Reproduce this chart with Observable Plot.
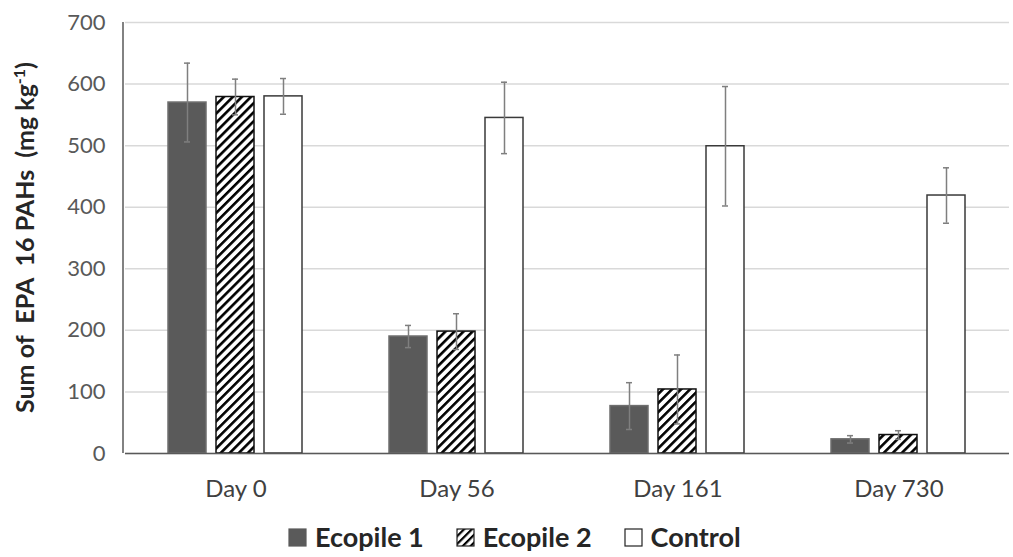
<!DOCTYPE html>
<html><head><meta charset="utf-8">
<script src="https://cdn.jsdelivr.net/npm/d3@7"></script>
<script src="https://cdn.jsdelivr.net/npm/@observablehq/plot@0.6"></script>
<style>
body{margin:0;background:#fff;font-family:Lato,"Open Sans",sans-serif;}
#wrap{position:relative;width:1013px;height:557px;overflow:hidden;}
#legend{position:absolute;left:288px;top:522px;display:flex;align-items:center;font-weight:bold;font-size:27px;line-height:30px;color:#262626;white-space:nowrap;}
#legend .item{display:flex;align-items:center;margin-right:32px;}
#legend svg{margin-right:8px;}
#defs{position:absolute;width:0;height:0;}
</style></head>
<body>
<svg id="defs" width="0" height="0"><defs>
<pattern id="hatch" patternUnits="userSpaceOnUse" width="6.4" height="6.4" patternTransform="rotate(45)">
<rect x="0" y="0" width="6.4" height="6.4" fill="#fff"/>
<rect x="0" y="0" width="2.6" height="6.4" fill="#000"/>
</pattern>
<pattern id="hatchSmall" patternUnits="userSpaceOnUse" width="5.5" height="5.5" patternTransform="rotate(45)">
<rect x="0" y="0" width="5.5" height="5.5" fill="#fff"/>
<rect x="0" y="0" width="2.2" height="5.5" fill="#000"/>
</pattern>
</defs></svg>
<div id="wrap"><div id="chart"></div><div id="legend"></div></div>
<script>
const days = ["Day 0", "Day 56", "Day 161", "Day 730"];
const series = ["Ecopile 1", "Ecopile 2", "Control"];
const ecopile1 = [570, 190, 77, 23];
const ecopile1Err = [64, 18, 38, 6];
const ecopile2 = [579, 198, 104, 30];
const ecopile2Err = [29, 29, 56, 7];
const control = [580, 545, 499, 419];
const controlErr = [29, 58, 97, 45];
const yTicks = [0, 100, 200, 300, 400, 500, 600, 700];

const values = [ecopile1, ecopile2, control];
const errs = [ecopile1Err, ecopile2Err, controlErr];
const data = [];
series.forEach((s, i) => days.forEach((d, j) => data.push({day: d, series: s, value: values[i][j], err: errs[i][j]})));

const fills = {"Ecopile 1": "#5a5a5a", "Ecopile 2": "url(#hatch)", "Control": "#ffffff"};
const strokes = {"Ecopile 1": "#6e6e6e", "Ecopile 2": "#111111", "Control": "#3a3a3a"};

const barMarks = series.map(s => Plot.barY(data.filter(d => d.series === s), {
  fx: "day", x: "series", y: "value", fill: fills[s], stroke: strokes[s], strokeWidth: 1.5
}));

const plot = Plot.plot({
  width: 1013, height: 520,
  marginLeft: 123, marginRight: 3, marginTop: 22, marginBottom: 67,
  style: {fontFamily: "Lato, 'Open Sans', sans-serif", fontSize: "22px", color: "#595959", background: "white", overflow: "visible"},
  fx: {domain: days, padding: 0, label: null, axis: "bottom", tickSize: 0, tickPadding: 26},
  x: {domain: series, axis: null, paddingInner: 0.2, paddingOuter: 0.8625},
  y: {domain: [0, 700], ticks: yTicks, label: null, tickSize: 0, tickPadding: 20},
  marks: [
    Plot.ruleY(yTicks, {stroke: "#d9d9d9", strokeWidth: 1.5}),
    ...barMarks,
    Plot.ruleX(data, {fx: "day", x: "series", y1: d => d.value - d.err, y2: d => d.value + d.err, stroke: "#7f7f7f", strokeWidth: 1.5}),
    Plot.tickY(data, {fx: "day", x: "series", y: d => d.value - d.err, insetLeft: 16, insetRight: 16, stroke: "#7f7f7f", strokeWidth: 1.5}),
    Plot.tickY(data, {fx: "day", x: "series", y: d => d.value + d.err, insetLeft: 16, insetRight: 16, stroke: "#7f7f7f", strokeWidth: 1.5}),
    Plot.ruleY([0], {stroke: "#595959", strokeWidth: 1.5})
  ]
});
document.getElementById("chart").appendChild(plot);

const svg = d3.select(plot);
const fxR = plot.scale("fx").range, yR = plot.scale("y").range;
svg.append("line").attr("x1", fxR[0]).attr("x2", fxR[0]).attr("y1", yR[0]).attr("y2", yR[1])
  .attr("stroke", "#595959").attr("stroke-width", 1.5);
svg.selectAll("g[aria-label='fx-axis tick label']").attr("fill", "#404040").attr("font-size", 24);

const lab = svg.append("text").attr("transform", `translate(34,${(yR[0] + yR[1]) / 2}) rotate(-90)`)
  .attr("text-anchor", "middle").attr("font-weight", "bold").attr("font-size", 25).attr("fill", "#262626")
  .style("white-space", "pre").attr("xml:space", "preserve");
lab.append("tspan").text("Sum of  EPA  16 PAHs  (mg kg");
lab.append("tspan").attr("baseline-shift", "super").attr("font-size", 16).text("-1");
lab.append("tspan").text(")");

const legend = d3.select("#legend");
series.forEach(s => {
  const it = legend.append("div").attr("class", "item");
  const sw = it.append("svg").attr("width", 19).attr("height", 19);
  sw.append("rect").attr("x", 1).attr("y", 1).attr("width", 17).attr("height", 17)
    .attr("fill", s === "Ecopile 2" ? "url(#hatchSmall)" : fills[s])
    .attr("stroke", s === "Ecopile 1" ? fills[s] : "#222").attr("stroke-width", 1.2);
  it.append("span").text(s);
});
</script>
</body></html>
